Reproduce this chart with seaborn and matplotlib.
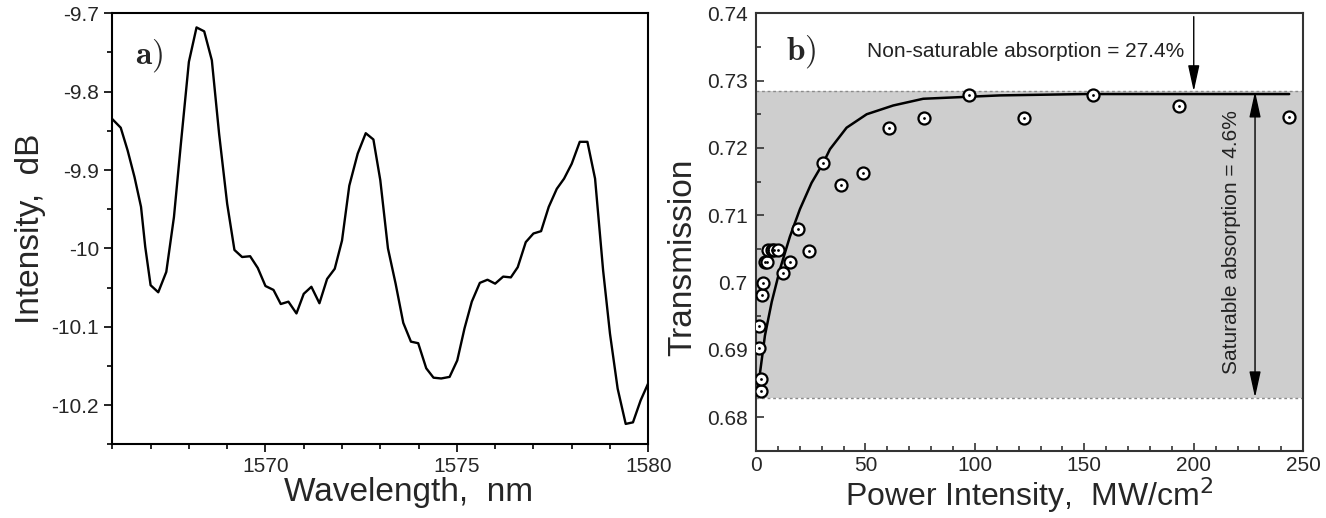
import numpy as np
import pandas as pd
import matplotlib
matplotlib.use("Agg")
import matplotlib.pyplot as plt
from matplotlib.ticker import MultipleLocator, FuncFormatter
import seaborn as sns

# ─── Data ──────────────────────────────────────────────────────────────────────

wavelength = [1566.0, 1566.22, 1566.4, 1566.58, 1566.75, 1566.86, 1567.0, 1567.2, 1567.41,
              1567.61, 1567.79, 1568.0, 1568.2, 1568.4, 1568.6, 1568.79, 1569.0, 1569.19,
              1569.39, 1569.6, 1569.8, 1570.0, 1570.21, 1570.4, 1570.6, 1570.81, 1571.0,
              1571.2, 1571.41, 1571.61, 1571.81, 1572.0, 1572.19, 1572.41, 1572.62, 1572.82,
              1573.0, 1573.2, 1573.4, 1573.6, 1573.8, 1573.99, 1574.2, 1574.39, 1574.59,
              1574.81, 1575.01, 1575.2, 1575.39, 1575.6, 1575.8, 1576.0, 1576.21, 1576.41,
              1576.59, 1576.8, 1577.0, 1577.2, 1577.4, 1577.61, 1577.8, 1578.0, 1578.21,
              1578.41, 1578.61, 1578.82, 1579.0, 1579.2, 1579.41, 1579.6, 1579.8, 1580.0]
intensity = [-9.835, -9.846, -9.875, -9.909, -9.947, -9.998, -10.047, -10.056, -10.030,
             -9.960, -9.867, -9.762, -9.718, -9.723, -9.760, -9.854, -9.943, -10.002,
             -10.011, -10.010, -10.025, -10.048, -10.053, -10.071, -10.068, -10.083, -10.058,
             -10.049, -10.070, -10.039, -10.026, -9.990, -9.920, -9.879, -9.853, -9.861,
             -9.913, -10.000, -10.045, -10.095, -10.119, -10.121, -10.153, -10.165, -10.166,
             -10.164, -10.143, -10.102, -10.068, -10.044, -10.040, -10.045, -10.036, -10.037,
             -10.024, -9.992, -9.981, -9.978, -9.947, -9.924, -9.911, -9.892, -9.864,
             -9.864, -9.911, -10.028, -10.109, -10.179, -10.224, -10.222, -10.194, -10.172]

power = [2.1, 2.1, 1.4, 1.4, 2.6, 3.1, 4.1, 5.2, 5.6, 7.2, 8.4, 9.9, 12.5, 15.5, 19.3,
         24.4, 30.8, 38.7, 48.7, 60.9, 76.9, 97.2, 122.6, 153.8, 193.4, 243.6]
transmission = [0.6839, 0.6856, 0.6903, 0.6935, 0.6982, 0.6999, 0.7031, 0.7031, 0.7048,
                0.7048, 0.7048, 0.7048, 0.7014, 0.7031, 0.7080, 0.7047, 0.7178, 0.7145,
                0.7162, 0.7230, 0.7245, 0.7278, 0.7245, 0.7278, 0.7262, 0.7246]

fit_power = [0.9, 1.5, 4.1, 7.2, 11.0, 15.5, 20.1, 25.4, 30.8, 33.8, 41.4, 50.6, 62.7,
             76.4, 97.2, 111.5, 150.0, 243.6]
fit_trans = [0.6843, 0.6857, 0.6921, 0.6971, 0.7020, 0.7068, 0.7109, 0.7148, 0.7178,
             0.7198, 0.7230, 0.7250, 0.7263, 0.7273, 0.7276, 0.7278, 0.7280, 0.7280]

T_MAX = 0.7284   # saturated transmission
T_MIN = 0.6829   # low-intensity transmission

spec_df = pd.DataFrame({"wl": wavelength, "I": intensity})
pts_df = pd.DataFrame({"P": power, "T": transmission})
fit_df = pd.DataFrame({"P": fit_power, "T": fit_trans})

# ─── Style ────────────────────────────────────────────────────────────────────

sns.set_style("ticks")
plt.rcParams["font.family"] = ["Liberation Sans", "DejaVu Sans"]
plt.rcParams["axes.unicode_minus"] = False

fig = plt.figure(figsize=(13.26, 5.18), dpi=100)
ax1 = fig.add_axes([0.0847, 0.1423, 0.4042, 0.8320])
ax2 = fig.add_axes([0.5701, 0.1300, 0.4127, 0.8443])

fmt_g = FuncFormatter(lambda v, _: f"{v:g}")

# --- a) spectrum --------------------------------------------------------------
sns.lineplot(data=spec_df, x="wl", y="I", ax=ax1, color="black", lw=1.7, sort=False)
ax1.set_xlim(1566, 1580)
ax1.set_ylim(-10.25, -9.7)
ax1.xaxis.set_major_locator(MultipleLocator(5))
ax1.xaxis.set_minor_locator(MultipleLocator(1))
ax1.yaxis.set_major_locator(MultipleLocator(0.1))
ax1.yaxis.set_minor_locator(MultipleLocator(0.05))
ax1.yaxis.set_major_formatter(fmt_g)
ax1.tick_params(which="both", direction="out", top=False, right=False,
                labelsize=15, width=1.2, color="black")
ax1.tick_params(which="major", length=6)
ax1.tick_params(which="minor", length=3.5)
for s in ax1.spines.values():
    s.set_visible(True)
    s.set_linewidth(1.5)
    s.set_color("black")
ax1.set_xlabel("Wavelength,  nm", fontsize=24, labelpad=2)
ax1.xaxis.set_label_coords(0.552, -0.075)
ax1.set_ylabel("Intensity,  dB", fontsize=24, labelpad=4)
ax1.text(1566.6, -9.7545, r"$\mathbf{a)}$", math_fontfamily="cm", fontsize=24,
         va="center", ha="left")

# --- b) saturable absorption ----------------------------------------------------
ax2.axhspan(T_MIN, T_MAX, color="#cecece", zorder=0, lw=0)
ax2.axhline(T_MAX, color="#8a8a8a", ls=(0, (2, 2)), lw=1, zorder=1)
ax2.axhline(T_MIN, color="#8a8a8a", ls=(0, (2, 2)), lw=1, zorder=1)

sns.lineplot(data=fit_df, x="P", y="T", ax=ax2, color="black", lw=1.8, sort=False, zorder=3)
sns.scatterplot(data=pts_df, x="P", y="T", ax=ax2, marker="o", s=75,
                facecolor="white", edgecolor="black", linewidth=1.6, zorder=4)
sns.scatterplot(data=pts_df, x="P", y="T", ax=ax2, marker="o", s=4,
                color="black", linewidth=0, zorder=5)

ax2.set_xlim(0, 250)
ax2.set_ylim(0.675, 0.74)
ax2.xaxis.set_major_locator(MultipleLocator(50))
ax2.xaxis.set_minor_locator(MultipleLocator(10))
ax2.yaxis.set_major_locator(MultipleLocator(0.01))
ax2.yaxis.set_minor_locator(MultipleLocator(0.005))
ax2.yaxis.set_major_formatter(fmt_g)
ax2.tick_params(which="both", direction="in", top=False, right=False,
                labelsize=15, width=1.2, color="#333333")
ax2.tick_params(which="major", length=6)
ax2.tick_params(which="minor", length=3.5)
ax2.tick_params(axis="y", pad=6)
ax2.tick_params(axis="x", pad=4)
for s in ax2.spines.values():
    s.set_visible(True)
    s.set_linewidth(1.5)
    s.set_color("#333333")
ax2.set_xlabel("Power Intensity,  MW/cm$^2$", fontsize=23, labelpad=0)
ax2.set_ylabel("Transmission", fontsize=24)
ax2.yaxis.set_label_coords(-0.105, 0.443)

ax2.text(13.5, 0.7343, r"$\mathbf{b)}$", math_fontfamily="cm", fontsize=24,
         va="center", ha="left")
ax2.text(195.5, 0.7343, "Non-saturable absorption = 27.4%", fontsize=15,
         ha="right", va="center", color="#222222")
ax2.annotate("", xy=(200, T_MAX), xytext=(200, 0.7395),
             arrowprops=dict(arrowstyle="-|>,head_length=1.6,head_width=0.35",
                             color="black", lw=1, shrinkA=0, shrinkB=0, mutation_scale=10))
ax2.annotate("", xy=(228, T_MIN), xytext=(228, T_MAX),
             arrowprops=dict(arrowstyle="<|-|>,head_length=1.6,head_width=0.35",
                             color="black", lw=1, shrinkA=0, shrinkB=0, mutation_scale=10))
ax2.text(217.3, 0.706, "Saturable absorption = 4.6%", fontsize=15, rotation=90,
         ha="center", va="center", color="#222222")

fig.savefig("out.png", dpi=100)
